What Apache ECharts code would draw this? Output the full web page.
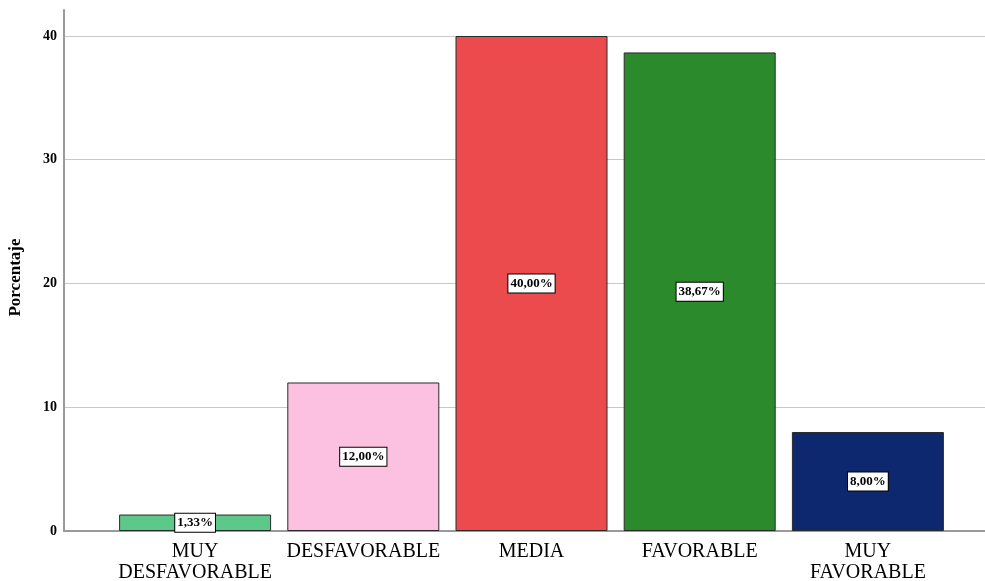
<!DOCTYPE html>
<html>
<head>
<meta charset="utf-8">
<script src="https://cdn.jsdelivr.net/npm/echarts@6/dist/echarts.min.js"></script>
<style>
  html, body { margin: 0; padding: 0; background: #ffffff; }
  #chart { width: 985px; height: 581px; }
</style>
</head>
<body>
<div id="chart"></div>
<script>
// Response categories and their percentages
const categories = ['MUY\nDESFAVORABLE', 'DESFAVORABLE', 'MEDIA', 'FAVORABLE', 'MUY\nFAVORABLE'];
const percentages = [1.33, 12.00, 40.00, 38.67, 8.00];
const barColors = ['#5cc98a', '#fcc0e0', '#ec4b4e', '#2a8a2c', '#0e2870'];
const yTicks = [0, 10, 20, 30, 40];

const serif = '"Liberation Serif", "DejaVu Serif", "Times New Roman", serif';
const yMax = 42.1;

const chart = echarts.init(document.getElementById('chart'), null, { renderer: 'canvas' });

const option = {
  backgroundColor: '#ffffff',
  animation: false,
  grid: [
    // frame grid: y axis, gridlines and baseline
    { left: 64, right: 0, top: 10, bottom: 50, containLabel: false, outerBoundsMode: 'none' },
    // bar grid
    { left: 111, right: 33, top: 10, bottom: 50, containLabel: false, outerBoundsMode: 'none' }
  ],
  xAxis: [
    {
      gridIndex: 0, type: 'value', min: 0, max: 1,
      axisLine: { show: true, onZero: false, lineStyle: { color: '#9a9a9a', width: 2 } },
      axisTick: { show: false }, axisLabel: { show: false }, splitLine: { show: false }
    },
    {
      gridIndex: 1, type: 'category', data: categories, boundaryGap: true,
      axisLine: { show: false }, axisTick: { show: false },
      axisLabel: {
        interval: 0, margin: 10, color: '#000000',
        fontFamily: serif, fontSize: 20, lineHeight: 21
      }
    }
  ],
  yAxis: [
    {
      gridIndex: 0, type: 'value', min: 0, max: yMax, interval: 10,
      name: 'Porcentaje', nameLocation: 'middle', nameGap: 40,
      nameTextStyle: { fontFamily: serif, fontSize: 17, fontWeight: 'bold', color: '#000000', padding: [0, 14, 0, 0] },
      axisLine: { show: true, lineStyle: { color: '#9a9a9a', width: 2 } },
      axisTick: { show: false },
      axisLabel: {
        margin: 7, color: '#000000', fontFamily: serif, fontSize: 14, fontWeight: 'bold',
        formatter: v => (yTicks.indexOf(v) >= 0 ? String(v) : '')
      },
      splitLine: {
        show: true,
        lineStyle: { color: ['#c8c8c8', '#c8c8c8', '#c8c8c8', '#c8c8c8', '#c8c8c8', 'rgba(0,0,0,0)'], width: 1 }
      }
    },
    {
      gridIndex: 1, type: 'value', min: 0, max: yMax, interval: 10, show: false,
      splitLine: { show: false }
    }
  ],
  series: [
    {
      type: 'bar',
      xAxisIndex: 1, yAxisIndex: 1,
      barWidth: 152,
      data: percentages.map((v, i) => ({
        value: v,
        itemStyle: { color: barColors[i], borderColor: '#2a2a2a', borderWidth: 1 }
      })),
      label: {
        show: true, position: 'inside',
        formatter: p => p.value.toFixed(2).replace('.', ',') + '%',
        fontFamily: serif, fontSize: 13, fontWeight: 'bold', color: '#000000',
        backgroundColor: '#ffffff', borderColor: '#000000', borderWidth: 1,
        padding: [3, 2, 2, 2]
      }
    }
  ]
};

chart.setOption(option);
</script>
</body>
</html>
